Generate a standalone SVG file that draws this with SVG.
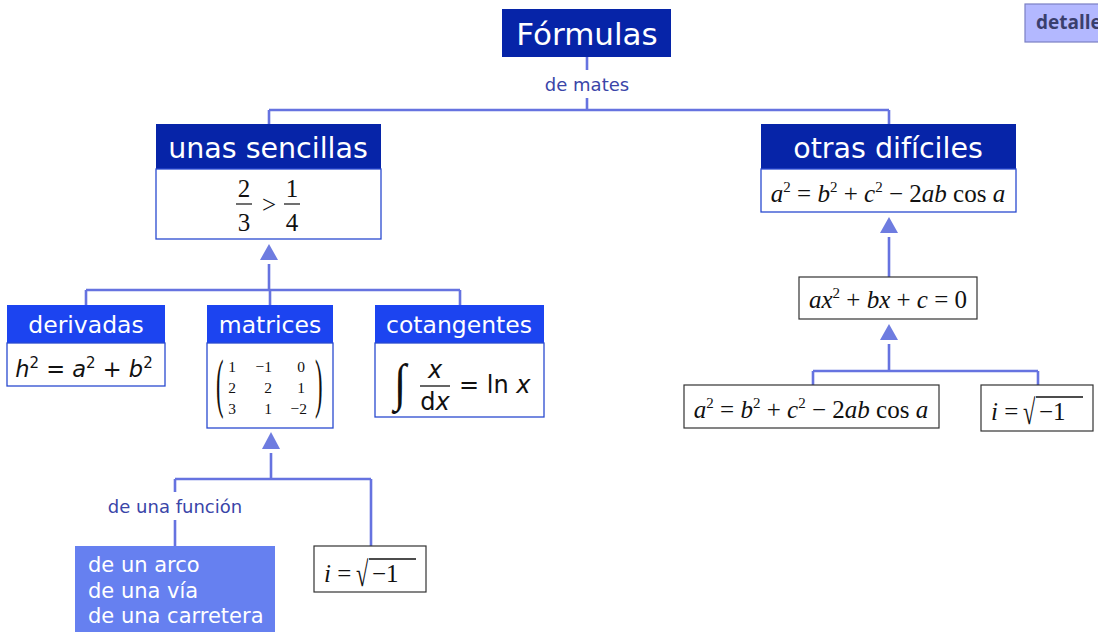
<svg xmlns="http://www.w3.org/2000/svg" width="1098" height="636" viewBox="0 0 1098 636">
<style>
.hdrD{fill:#0624a8}
.hdrL{fill:#1c44f0}
.body{fill:#fff;stroke:#2a4ad0;stroke-width:1.3}
.plain{fill:#fff;stroke:#333;stroke-width:1.2}
.ht{font-family:"DejaVu Sans",Verdana,sans-serif;fill:#fff;text-anchor:middle}
.lbl{font-family:"DejaVu Sans",Verdana,sans-serif;fill:#3a45a8;font-size:18px;text-anchor:middle}
.m{font-family:"Liberation Serif","DejaVu Serif",serif;fill:#111;font-size:25px}
.mi{font-style:italic}
.sup{font-size:15px}
.con{fill:none;stroke:#6673e0;stroke-width:2.6}
.arr{fill:#6e7ce0}
</style>
<rect width="1098" height="636" fill="#fff"/>
<g id="connectors">
<path class="con" d="M587 57V70M587 98V110M269 110H889M269 110V124M889 110V124"/>
<polygon class="arr" points="269,244 260,260 278,260"/>
<path class="con" d="M269 264V290M86 290H460M86 290V305M270 290V305M460 290V305"/>
<polygon class="arr" points="271,432 262,449 280,449"/>
<path class="con" d="M271 453V479M175 479H371M175 479V492M175 520V546M371 479V546"/>
<polygon class="arr" points="889,217 880,233 898,233"/>
<path class="con" d="M889 237V277"/>
<polygon class="arr" points="889,324 880,340 898,340"/>
<path class="con" d="M889 344V371M813 371H1038M813 371V385M1038 371V385"/>
<text class="lbl" x="587" y="91">de mates</text>
<text class="lbl" x="175" y="513">de una función</text>
</g>
<g id="n-formulas">
<rect class="hdrD" x="502" y="9" width="169" height="48"/>
<text class="ht" x="587" y="45" font-size="31">Fórmulas</text>
</g>
<g id="n-sencillas">
<rect class="hdrD" x="156" y="124" width="225" height="45"/>
<text class="ht" x="268" y="158" font-size="28.5">unas sencillas</text>
<rect class="body" x="156" y="169" width="225" height="70"/>
<text class="m" x="244" y="197" text-anchor="middle" font-size="27">2</text>
<line x1="236" y1="204" x2="252" y2="204" stroke="#111" stroke-width="1.2"/>
<text class="m" x="244" y="231" text-anchor="middle" font-size="27">3</text>
<text class="m" x="269" y="213" text-anchor="middle" font-size="27">&gt;</text>
<text class="m" x="292" y="197" text-anchor="middle" font-size="27">1</text>
<line x1="284" y1="204" x2="300" y2="204" stroke="#111" stroke-width="1.2"/>
<text class="m" x="292" y="231" text-anchor="middle" font-size="27">4</text>
</g>
<g id="n-dificiles">
<rect class="hdrD" x="761" y="124" width="255" height="45"/>
<text class="ht" x="888" y="158" font-size="28.5">otras difíciles</text>
<rect class="body" x="761" y="169" width="255" height="43"/>
<text class="m" x="888" y="202" text-anchor="middle"><tspan class="mi">a</tspan><tspan class="sup" dy="-10">2</tspan><tspan dy="10"> = </tspan><tspan class="mi">b</tspan><tspan class="sup" dy="-10">2</tspan><tspan dy="10"> + </tspan><tspan class="mi">c</tspan><tspan class="sup" dy="-10">2</tspan><tspan dy="10"> − 2</tspan><tspan class="mi">ab</tspan> cos <tspan class="mi">a</tspan></text>
</g>
<g id="n-derivadas">
<rect class="hdrL" x="7" y="305" width="158" height="38"/>
<text class="ht" x="86" y="333" font-size="23.5">derivadas</text>
<rect class="body" x="7" y="343" width="158" height="43"/>
<text x="84" y="377" text-anchor="middle" font-family="DejaVu Sans,sans-serif" font-size="22.5" fill="#111"><tspan font-style="italic">h</tspan><tspan font-size="15" dy="-9">2</tspan><tspan dy="9"> = </tspan><tspan font-style="italic">a</tspan><tspan font-size="15" dy="-9">2</tspan><tspan dy="9"> + </tspan><tspan font-style="italic">b</tspan><tspan font-size="15" dy="-9">2</tspan></text>
</g>
<g id="n-matrices">
<rect class="hdrL" x="207" y="305" width="126" height="38"/>
<text class="ht" x="270" y="333" font-size="23.5">matrices</text>
<rect class="body" x="207" y="343" width="126" height="85"/>
<text font-family="Liberation Serif,serif" font-size="54" fill="#111" transform="translate(216,405) scale(0.42,1.22)">(</text>
<text font-family="Liberation Serif,serif" font-size="54" fill="#111" transform="translate(315,405) scale(0.42,1.22)">)</text>
<g font-family="Liberation Serif,serif" font-size="15.5" fill="#111" text-anchor="end">
<text x="236" y="372">1</text><text x="272" y="372">−1</text><text x="305" y="372">0</text>
<text x="236" y="393">2</text><text x="272" y="393">2</text><text x="305" y="393">1</text>
<text x="236" y="414">3</text><text x="272" y="414">1</text><text x="307" y="414">−2</text>
</g>
</g>
<g id="n-cotangentes">
<rect class="hdrL" x="375" y="305" width="169" height="38"/>
<text class="ht" x="459" y="333" font-size="23.5">cotangentes</text>
<rect class="body" x="375" y="343" width="169" height="74"/>
<text x="400" y="400" font-family="Liberation Serif,serif" font-size="52" fill="#111" text-anchor="middle" transform="translate(400,0) scale(0.85,1) translate(-400,0)">∫</text>
<text x="435" y="378" font-family="DejaVu Sans,sans-serif" font-size="24" font-style="italic" fill="#111" text-anchor="middle">x</text>
<line x1="420" y1="386" x2="450" y2="386" stroke="#111" stroke-width="1.3"/>
<text x="435" y="410" font-family="DejaVu Sans,sans-serif" font-size="24" fill="#111" text-anchor="middle">d<tspan font-style="italic">x</tspan></text>
<text x="459" y="393" font-family="DejaVu Sans,sans-serif" font-size="24" fill="#111">= ln <tspan font-style="italic">x</tspan></text>
</g>
<g id="n-arco">
<rect x="75" y="546" width="200" height="86" fill="#6680f0"/>
<g font-family="DejaVu Sans,sans-serif" font-size="21" fill="#fff">
<text x="88" y="572">de un arco</text>
<text x="88" y="598">de una vía</text>
<text x="88" y="623">de una carretera</text>
</g>
</g>
<g id="n-raiz1">
<rect class="plain" x="314" y="546" width="112" height="46"/>
<text class="m" x="324" y="582"><tspan class="mi">i</tspan> =</text>
<text class="m" font-size="30" transform="translate(356,586) scale(0.9,1.4)">√</text>
<text class="m" x="372" y="582">−1</text>
<line x1="369" y1="559" x2="416" y2="559" stroke="#111" stroke-width="1.3"/>
</g>
<g id="n-cuadratica">
<rect class="plain" x="799" y="277" width="178" height="42"/>
<text class="m" x="888" y="308" text-anchor="middle"><tspan class="mi">ax</tspan><tspan class="sup" dy="-10">2</tspan><tspan dy="10"> + </tspan><tspan class="mi">bx</tspan> + <tspan class="mi">c</tspan> = 0</text>
</g>
<g id="n-coseno">
<rect class="plain" x="684" y="385" width="255" height="43"/>
<text class="m" x="811" y="418" text-anchor="middle"><tspan class="mi">a</tspan><tspan class="sup" dy="-10">2</tspan><tspan dy="10"> = </tspan><tspan class="mi">b</tspan><tspan class="sup" dy="-10">2</tspan><tspan dy="10"> + </tspan><tspan class="mi">c</tspan><tspan class="sup" dy="-10">2</tspan><tspan dy="10"> − 2</tspan><tspan class="mi">ab</tspan> cos <tspan class="mi">a</tspan></text>
</g>
<g id="n-raiz2">
<rect class="plain" x="981" y="385" width="112" height="46"/>
<text class="m" x="991" y="420"><tspan class="mi">i</tspan> =</text>
<text class="m" font-size="30" transform="translate(1023,424) scale(0.9,1.4)">√</text>
<text class="m" x="1039" y="420">−1</text>
<line x1="1036" y1="397" x2="1083" y2="397" stroke="#111" stroke-width="1.3"/>
</g>
<g id="btn-detalle">
<rect x="1025" y="4" width="80" height="38" fill="#b3b8ff" stroke="#7a7fc4" stroke-width="1.2"/>
<text x="1036" y="29" font-family="Open Sans,DejaVu Sans,sans-serif" font-weight="bold" font-size="19" fill="#3a3f6e">detalle</text>
</g>
</svg>
